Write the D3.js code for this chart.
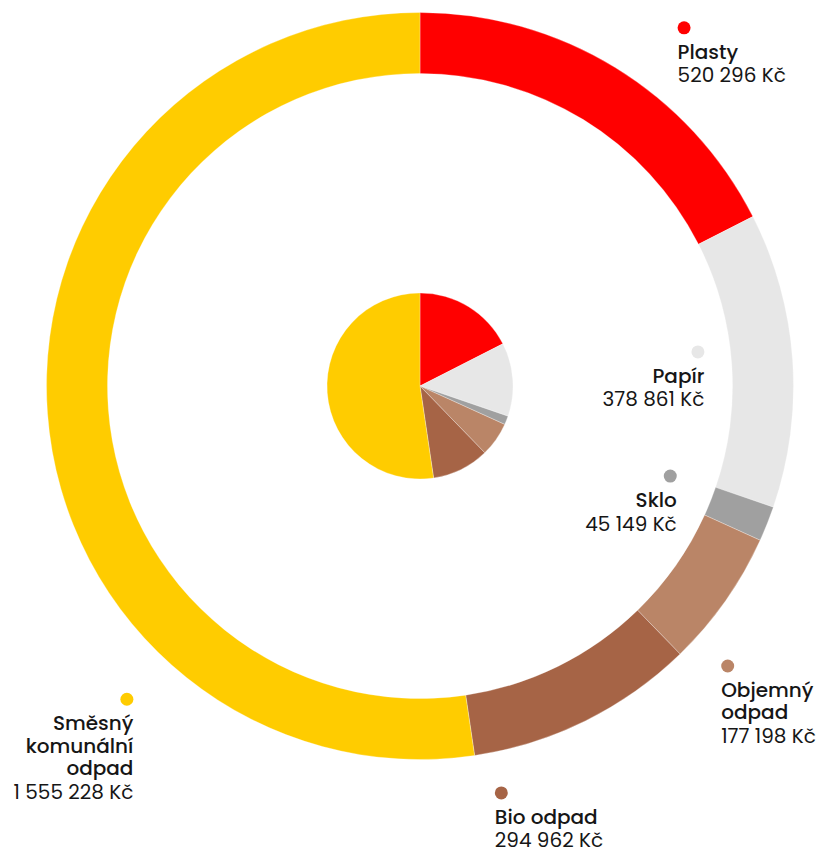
<!DOCTYPE html>
<html>
<head>
<meta charset="utf-8">
<script src="https://cdn.jsdelivr.net/npm/d3@7"></script>
<style>
  html, body { margin: 0; padding: 0; background: #fff; }
  #chart text { font-family: Poppins, "Noto Sans", sans-serif; fill: #161616; }
</style>
</head>
<body>
<div id="chart"></div>
<script>
// data
const categories = ["Plasty", "Papír", "Sklo", "Objemný odpad", "Bio odpad", "Směsný komunální odpad"];
const values = [520296, 378861, 45149, 177198, 294962, 1555228];
const colors = ["#ff0000", "#e7e7e7", "#a0a0a0", "#ba8567", "#a66446", "#ffcc00"];

// where each label dot sits (angle clockwise from top in degrees, distance from centre) + text alignment
const labelLayout = [
    {angle: 36.4, dist: 445, anchor: "start", wrap: false},
    {angle: 83.0, dist: 280, anchor: "end", wrap: false},
    {angle: 109.8, dist: 266, anchor: "end", wrap: false},
    {angle: 132.3, dist: 416, anchor: "start", wrap: true},
    {angle: 168.7, dist: 415, anchor: "start", wrap: false},
    {angle: 223.1, dist: 429, anchor: "end", wrap: true}
];

const width = 822, height = 850;
const cx = 420, cy = 386;
const outerR = 373.5, ringW = 61, pieR = 93;

const fmt = d3.formatLocale({decimal: ",", thousands: " ", grouping: [3], currency: ["", " Kč"]}).format("$,.0f");

const data = categories.map((c, i) => ({name: c, value: values[i], color: colors[i], layout: labelLayout[i]}));

const svg = d3.select("#chart").append("svg")
    .attr("width", width)
    .attr("height", height);

const g = svg.append("g").attr("transform", `translate(${cx},${cy})`);

const pie = d3.pie().sort(null).value(d => d.value);
const arcs = pie(data);

// outer ring
const ringArc = d3.arc().innerRadius(outerR - ringW).outerRadius(outerR);
g.selectAll(".ring")
    .data(arcs)
    .join("path")
    .attr("class", "ring")
    .attr("d", ringArc)
    .attr("fill", d => d.data.color)
    .attr("stroke", "#fff")
    .attr("stroke-width", 0.3);

// small pie in the middle
const pieArc = d3.arc().innerRadius(0).outerRadius(pieR);
g.selectAll(".slice")
    .data(arcs)
    .join("path")
    .attr("class", "slice")
    .attr("d", pieArc)
    .attr("fill", d => d.data.color)
    .attr("stroke", "#fff")
    .attr("stroke-width", 0.3);

// labels
const labels = g.selectAll(".label")
    .data(data)
    .join("g")
    .attr("class", "label")
    .attr("transform", d => {
        let a = d.layout.angle * Math.PI / 180;
        return `translate(${d.layout.dist * Math.sin(a)},${-d.layout.dist * Math.cos(a)})`;
    });

const dotR = 6.5;
labels.append("circle")
    .attr("r", dotR)
    .attr("fill", d => d.color);

const lineH = 22.5;
labels.each(function(d) {
    let sel = d3.select(this);
    let tx = d.layout.anchor === "start" ? -dotR : dotR;
    let lines = d.layout.wrap ? d.name.split(" ") : [d.name];
    let text = sel.append("text")
        .attr("text-anchor", d.layout.anchor)
        .attr("font-size", 20);
    lines.forEach((line, i) => {
        text.append("tspan")
            .attr("x", tx)
            .attr("y", 31 + i * lineH)
            .attr("font-weight", 500)
            .text(line);
    });
    text.append("tspan")
        .attr("x", tx)
        .attr("y", 31 + lines.length * lineH + 1)
        .attr("font-weight", 400)
        .text(fmt(d.value));
});
</script>
</body>
</html>
